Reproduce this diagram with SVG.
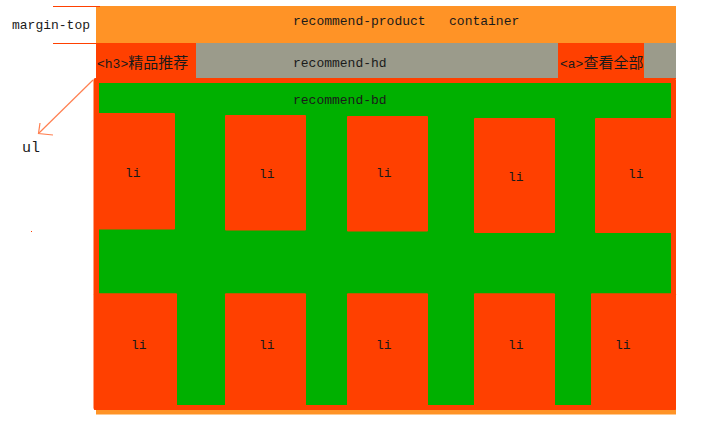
<svg xmlns="http://www.w3.org/2000/svg" width="728" height="431" viewBox="0 0 728 431">
<style>
.t{font-family:"Liberation Mono","DejaVu Sans Mono",monospace;font-size:13px;fill:#1a1a1a;white-space:pre}
.cjk{font-family:"Noto Sans CJK SC","Noto Sans CJK JP",sans-serif;font-size:15px}
.red{fill:#FF4000}
.grn{fill:#00B000}
.org{fill:#FF9326}
.gry{fill:#9B9B8B}
.li{fill:#FF4000}
.conn{stroke:#FF7F50;stroke-width:1.2;fill:none}
.guide{stroke:#FF4000;stroke-width:1}
</style>
<rect width="728" height="431" fill="#ffffff"/>

<g id="container">
  <rect class="org" x="96" y="6" width="580" height="37"/>
  <rect class="org" x="96" y="406" width="580" height="8.5"/>
  <text class="t" x="293" y="25" xml:space="preserve">recommend-product   container</text>
</g>

<g id="margin-top">
  <line class="guide" x1="53" y1="6.5" x2="100" y2="6.5"/>
  <line class="guide" x1="53" y1="43.5" x2="100" y2="43.5"/>
  <text class="t" x="12" y="29">margin-top</text>
</g>

<g id="recommend-hd">
  <rect class="red" x="96" y="43" width="580" height="36"/>
  <rect class="gry" x="196" y="43" width="362" height="35"/>
  <rect class="gry" x="644" y="43" width="32" height="35"/>
  <text class="t" x="293" y="67">recommend-hd</text>
</g>

<g id="h3">
  <text class="t" x="97" y="68">&lt;h3&gt;<tspan class="cjk">精品推荐</tspan></text>
</g>

<g id="a-more">
  <text class="t" x="560" y="68">&lt;a&gt;<tspan class="cjk">查看全部</tspan></text>
</g>

<g id="ul">
  <rect class="red" x="93.5" y="78" width="582.5" height="332" rx="2"/>
</g>

<g id="recommend-bd">
  <rect class="grn" x="99" y="83" width="572" height="322"/>
  <text class="t" x="293" y="104">recommend-bd</text>
</g>

<g id="li-top-1"><rect class="li" x="94" y="113" width="81" height="116.5" rx="1"/><text class="t" x="125" y="177">li</text></g>
<g id="li-top-2"><rect class="li" x="225" y="115" width="81" height="115.5" rx="1"/><text class="t" x="259" y="178">li</text></g>
<g id="li-top-3"><rect class="li" x="347" y="116" width="81" height="115.5" rx="1"/><text class="t" x="376" y="177">li</text></g>
<g id="li-top-4"><rect class="li" x="474" y="118" width="81" height="115" rx="1"/><text class="t" x="508" y="181">li</text></g>
<g id="li-top-5"><rect class="li" x="595" y="118" width="81" height="115" rx="1"/><text class="t" x="628" y="178">li</text></g>

<g id="li-bottom-1"><rect class="li" x="94" y="293.3" width="83" height="116.7" rx="1"/><text class="t" x="131" y="349">li</text></g>
<g id="li-bottom-2"><rect class="li" x="225" y="293.3" width="81" height="116.7" rx="1"/><text class="t" x="259" y="349">li</text></g>
<g id="li-bottom-3"><rect class="li" x="347" y="293.3" width="81" height="116.7" rx="1"/><text class="t" x="376" y="349">li</text></g>
<g id="li-bottom-4"><rect class="li" x="474" y="293.3" width="81" height="116.7" rx="1"/><text class="t" x="508" y="349">li</text></g>
<g id="li-bottom-5"><rect class="li" x="591" y="293.3" width="85" height="116.7" rx="1"/><text class="t" x="615" y="349">li</text></g>

<g id="ul-label">
  <text class="t" x="22" y="152" style="font-size:15px">ul</text>
</g>

<g id="connectors">
  <line class="conn" x1="93" y1="80" x2="38.5" y2="133.5"/>
  <polyline class="conn" points="40,123 38.5,133.5 53,135"/>
</g>

<rect x="31" y="231" width="1" height="1" fill="#FF4000"/>
</svg>
